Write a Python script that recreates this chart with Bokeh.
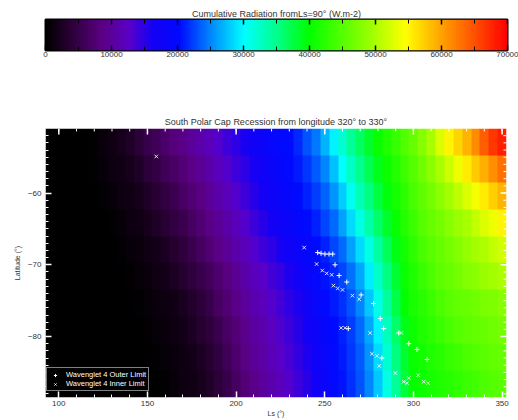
import numpy as np
from bokeh.plotting import figure
from bokeh.models import LinearColorMapper, FixedTicker, Range1d, Legend, LegendItem
from bokeh.layouts import column
from bokeh.embed import file_html
from bokeh.resources import INLINE

# ---------------- data ----------------
# Ls column centres (deg) of the radiation grid
ls_centers = list(range(95, 355, 5))
# latitude row centres (deg), top to bottom
lat_centers = [-52.875, -56.625, -60.375, -64.125, -67.875, -71.625, -75.375, -79.125, -82.875, -86.625]
lat_step = 3.75
ls_step = 5
# cumulative radiation from Ls=90 (thousands of W.m-2), one list per latitude row (top to bottom)
rad_lat_m53 = [0, 0, 0, 0, 0, 0.5, 1, 1.5, 2, 3,
               4, 5, 6, 7, 8, 9, 10, 11, 12, 13,
               14, 15, 16, 17, 18, 19, 19.8, 20.5, 21.5, 23,
               24.5, 27, 29.7, 32.2, 34.5, 36.5, 38.5, 40.3, 41.7, 43.2,
               44.8, 46, 48, 50, 52.5, 55, 57, 59, 61.5, 64,
               66.5, 68]
rad_lat_m57 = [0, 0, 0, 0, 0, 0.3, 0.7, 1.2, 1.6, 2,
               3, 3.9, 4.8, 5.8, 6.8, 7.8, 8.8, 9.8, 10.8, 11.9,
               12.9, 14, 15, 16.1, 17.2, 18.3, 19.3, 20.2, 21, 22,
               23.3, 25, 27.5, 30.2, 32.6, 34.8, 37, 39, 40.7, 42.1,
               43.5, 45, 46.7, 48.3, 50, 51.9, 53.8, 55.7, 57.5, 59.3,
               61, 63]
rad_lat_m60 = [0, 0, 0, 0, 0, 0, 0.3, 0.7, 1.1, 1.5,
               2, 2.9, 3.8, 4.6, 5.6, 6.6, 7.6, 8.6, 9.6, 10.7,
               11.8, 12.9, 14.1, 15.1, 16.2, 17.3, 18.4, 19.4, 20.3, 21.2,
               22.3, 23.7, 25.6, 28, 30.7, 33.2, 35.5, 37.7, 39.6, 41.2,
               42.6, 44.1, 45.5, 46.8, 48.2, 49.5, 51, 52.5, 54, 55.6,
               57.3, 59]
rad_lat_m64 = [0, 0, 0, 0, 0, 0, 0, 0.3, 0.7, 1.1,
               1.5, 2, 2.8, 3.7, 4.5, 5.4, 6.5, 7.5, 8.5, 9.6,
               10.7, 11.9, 13.1, 14.1, 15.1, 16.2, 17.3, 18.4, 19.4, 20.3,
               21.3, 22.5, 24, 26, 28.5, 31.2, 33.8, 36.2, 38.4, 40.4,
               41.9, 43.4, 45, 46, 47, 48, 49, 50, 51.2, 52.5,
               53.7, 55]
rad_lat_m68 = [0, 0, 0, 0, 0, 0, 0, 0, 0.3, 0.6,
               1, 1.4, 1.8, 2.7, 3.5, 4.3, 5.2, 6.3, 7.4, 8.5,
               9.6, 10.8, 12, 13, 14, 15, 16, 17.1, 18.3, 19.3,
               20.3, 21.3, 22.5, 24, 26, 28.5, 31.3, 34, 36.8, 39.2,
               41, 42.6, 44.2, 45.3, 46.2, 47, 47.8, 48.7, 49.5, 50.3,
               51.2, 52]
rad_lat_m72 = [0, 0, 0, 0, 0, 0, 0, 0, 0, 0.3,
               0.6, 1, 1.4, 1.8, 2.5, 3.3, 4.2, 5, 6.1, 7.3,
               8.4, 9.5, 10.8, 11.8, 12.8, 13.8, 14.7, 15.6, 16.8, 18.2,
               19.6, 20.6, 21.5, 22.6, 24.2, 26.5, 29.3, 32.4, 35.5, 38.2,
               40.3, 41.8, 43.1, 44.3, 45.4, 46.1, 46.9, 47.6, 48.3, 49,
               49.7, 50.2]
rad_lat_m75 = [0, 0, 0, 0, 0, 0, 0, 0, 0, 0,
               0.3, 0.6, 1, 1.3, 1.6, 2.4, 3.2, 4.1, 5, 6.3,
               7.5, 8.8, 10, 11, 12, 13, 13.9, 14.8, 15.8, 17.2,
               18.6, 19.8, 20.8, 21.8, 23, 25, 27.8, 31, 34.3, 37.3,
               39.7, 41.3, 42.3, 43.3, 44.4, 45.2, 45.7, 46.1, 46.6, 47.1,
               47.5, 48]
rad_lat_m79 = [0, 0, 0, 0, 0, 0, 0, 0, 0, 0,
               0, 0.3, 0.6, 1, 1.3, 1.7, 2.6, 3.3, 4.2, 5.3,
               6.6, 7.9, 9.2, 10.2, 11.2, 12.2, 13.2, 14.2, 15.2, 16.5,
               18, 19.3, 20.4, 21.3, 22.4, 24, 26.5, 29.6, 33, 36.2,
               38.9, 40.7, 41.6, 42.4, 43.3, 44.1, 45, 45.4, 45.8, 46.2,
               46.6, 47]
rad_lat_m83 = [0, 0, 0, 0, 0, 0, 0, 0, 0, 0,
               0, 0, 0.3, 0.6, 1, 1.3, 1.7, 2.6, 3.4, 4.4,
               5.8, 7.2, 8.6, 9.6, 10.6, 11.6, 12.6, 13.6, 14.6, 15.8,
               17.3, 18.8, 20, 21, 22, 23.4, 25.6, 28.6, 32, 35.3,
               38.2, 40.3, 41, 41.6, 42.3, 43, 43.6, 44.3, 45, 45.3,
               45.7, 46]
rad_lat_m87 = [0, 0, 0, 0, 0, 0, 0, 0, 0, 0,
               0, 0, 0.2, 0.5, 0.8, 1.1, 1.5, 2, 3, 4,
               5, 6.5, 7.9, 9, 10, 11, 12, 13, 14, 15.2,
               16.7, 18.3, 19.7, 20.7, 21.7, 23, 25, 27.8, 31.2, 34.6,
               37.6, 40, 40.6, 41.1, 41.7, 42.2, 42.8, 43.3, 43.9, 44.4,
               45, 45.3]
rad_rows = [rad_lat_m53, rad_lat_m57, rad_lat_m60, rad_lat_m64, rad_lat_m68,
            rad_lat_m72, rad_lat_m75, rad_lat_m79, rad_lat_m83, rad_lat_m87]

# Wavelet 4 outer limit (+) and inner limit (x): Ls, latitude
outer_ls = [246.0, 247.9, 250.1, 252.4, 254.5, 255.8, 258.1, 262.4, 263.3, 270.5,
            277.5, 281.3, 283.2, 291.7, 297.4, 302.0, 307.7, 282.2]
outer_lat = [-68.3, -68.4, -68.5, -68.5, -68.5, -70.0, -71.5, -72.4, -78.9, -74.2,
             -75.4, -77.5, -78.9, -79.5, -81.0, -81.8, -83.2, -83.0]
inner_ls = [155.0, 238.4, 245.4, 248.6, 251.1, 253.9, 254.9, 257.3, 260.0, 265.6,
            269.4, 259.2, 261.5, 275.6, 293.2, 276.6, 279.4, 280.7, 289.8, 294.5,
            296.4, 297.4, 302.7, 305.8, 308.3]
inner_lat = [-54.9, -67.6, -69.9, -70.8, -71.2, -71.4, -72.9, -73.3, -73.5, -74.3,
             -74.8, -78.8, -78.8, -79.5, -79.5, -82.4, -82.7, -84.1, -85.1, -86.3,
             -86.5, -85.8, -85.4, -86.3, -86.5]

cbar_ticks = [0, 10000, 20000, 30000, 40000, 50000, 60000, 70000]
cbar_minor = list(range(0, 70001, 5000))
cbar_max = 70000
lat_ticks = [-60, -70, -80]
lat_minor = list(range(-88, -51))
ls_ticks = [100, 150, 200, 250, 300, 350]
ls_minor = list(range(100, 360, 10))

# ---------------- palette (IDL-like rainbow) ----------------
stop_pos = [0.0, 0.05, 0.12, 0.18, 0.23, 0.29, 0.36, 0.43, 0.50, 0.57, 0.70, 0.78, 0.86, 1.0]
stop_rgb = [(0, 0, 0), (40, 0, 50), (90, 0, 130), (90, 0, 200), (20, 0, 245), (0, 10, 255),
            (0, 140, 255), (0, 255, 255), (0, 255, 140), (0, 255, 0), (150, 255, 0),
            (255, 255, 0), (255, 160, 0), (255, 0, 0)]
tt = np.linspace(0, 1, 256)
chans = [np.interp(tt, stop_pos, [c[i] for c in stop_rgb]) for i in range(3)]
palette = ['#%02x%02x%02x' % (int(round(r)), int(round(g)), int(round(b)))
           for r, g, b in zip(*chans)]
mapper = LinearColorMapper(palette=palette, low=0, high=cbar_max)

FONT = "Liberation Sans"
TXT = "#333333"

# ---------------- colour bar figure ----------------
p1 = figure(frame_width=462, frame_height=31, x_range=Range1d(0, cbar_max), y_range=Range1d(0, 1),
            output_backend="svg", toolbar_location=None,
            min_border_left=45, min_border_right=11, min_border_top=19, min_border_bottom=28)
p1.title.text = "Cumulative Radiation fromLs=90\u00b0 (W.m-2)"
p1.title.align = "center"
p1.title.text_font = FONT
p1.title.text_font_size = "9px"
p1.title.text_font_style = "normal"
p1.title.text_color = TXT
p1.title.standoff = 2
grad = np.linspace(0, cbar_max, 512)[None, :]
p1.image(image=[grad], x=0, y=0, dw=cbar_max, dh=1, color_mapper=mapper)
p1.grid.visible = False
p1.yaxis.visible = False
p1.outline_line_color = "black"
p1.outline_line_width = 2
ax = p1.xaxis[0]
ax.ticker = FixedTicker(ticks=cbar_ticks, minor_ticks=cbar_minor)
ax.axis_line_color = None
ax.major_tick_in = 5
ax.major_tick_out = 0
ax.minor_tick_in = 4
ax.minor_tick_out = 0
ax.major_tick_line_color = "black"
ax.minor_tick_line_color = "black"
ax.major_tick_line_width = 1.5
ax.major_label_text_font = FONT
ax.major_label_text_font_size = "8px"
ax.major_label_text_color = TXT
ax.major_label_standoff = 1
# mirrored ticks on the top edge of the colour bar (5 px / 4 px long)
cb_major_len = 5 / 31
cb_minor_len = 4 / 31
p1.segment(x0=cbar_ticks, y0=[1] * len(cbar_ticks), x1=cbar_ticks,
           y1=[1 - cb_major_len] * len(cbar_ticks), line_color="black", line_width=1.5)
p1.segment(x0=cbar_minor, y0=[1] * len(cbar_minor), x1=cbar_minor,
           y1=[1 - cb_minor_len] * len(cbar_minor), line_color="black", line_width=1)

# ---------------- main figure ----------------
x0 = ls_centers[0] - ls_step / 2
x1 = ls_centers[-1] + ls_step / 2
y_top = lat_centers[0] + lat_step / 2
y_bot = lat_centers[-1] - lat_step / 2
FW, FH = 461, 269
p2 = figure(frame_width=FW, frame_height=FH, x_range=Range1d(x0, x1), y_range=Range1d(y_bot, y_top),
            output_backend="svg", toolbar_location=None,
            min_border_left=42, min_border_right=15, min_border_top=50, min_border_bottom=21)
p2.title.text = "South Polar Cap Recession from longitude 320\u00b0 to 330\u00b0"
p2.title.align = "center"
p2.title.text_font = FONT
p2.title.text_font_size = "9px"
p2.title.text_font_style = "normal"
p2.title.text_color = TXT
p2.title.standoff = 3

rad = np.array(rad_rows[::-1], dtype=float) * 1000.0
p2.image(image=[rad], x=x0, y=y_bot, dw=x1 - x0, dh=y_top - y_bot, color_mapper=mapper)
p2.grid.visible = False
p2.outline_line_color = None

r_out = p2.scatter(outer_ls, outer_lat, marker="cross", size=5, line_color="white", line_width=1)
r_in = p2.scatter(inner_ls, inner_lat, marker="x", size=5, line_color="white", line_width=1,
                  line_alpha=0.85)

def style_axis(a):
    a.axis_line_color = None
    a.major_tick_in = 6
    a.major_tick_out = 0
    a.minor_tick_in = 3
    a.minor_tick_out = 0
    a.major_tick_line_color = "white"
    a.minor_tick_line_color = "white"
    a.major_tick_line_width = 1.5
    a.minor_tick_line_width = 1
    a.major_label_text_font = FONT
    a.major_label_text_font_size = "8px"
    a.major_label_text_color = TXT
    a.axis_label_text_font = FONT
    a.axis_label_text_font_size = "7px"
    a.axis_label_text_font_style = "normal"
    a.axis_label_text_color = TXT

xax = p2.xaxis[0]
xax.ticker = FixedTicker(ticks=ls_ticks, minor_ticks=ls_minor)
xax.axis_label = "Ls (\u00b0)"
xax.axis_label_standoff = 1
xax.major_label_standoff = 3
style_axis(xax)
yax = p2.yaxis[0]
yax.ticker = FixedTicker(ticks=lat_ticks, minor_ticks=lat_minor)
yax.axis_label = "Latitude (\u00b0)"
yax.axis_label_standoff = 4
yax.major_label_standoff = 4
style_axis(yax)

# mirrored white ticks on top and right edges (6 px major, 3 px minor)
dy_major = 6 / FH * (y_top - y_bot)
dy_minor = 3 / FH * (y_top - y_bot)
dx_major = 6 / FW * (x1 - x0)
dx_minor = 3 / FW * (x1 - x0)
p2.segment(x0=ls_ticks, y0=[y_top] * len(ls_ticks), x1=ls_ticks,
           y1=[y_top - dy_major] * len(ls_ticks), line_color="white", line_width=1.5)
p2.segment(x0=ls_minor, y0=[y_top] * len(ls_minor), x1=ls_minor,
           y1=[y_top - dy_minor] * len(ls_minor), line_color="white", line_width=1)
p2.segment(x0=[x1] * len(lat_ticks), y0=lat_ticks, x1=[x1 - dx_major] * len(lat_ticks),
           y1=lat_ticks, line_color="white", line_width=1.5)
p2.segment(x0=[x1] * len(lat_minor), y0=lat_minor, x1=[x1 - dx_minor] * len(lat_minor),
           y1=lat_minor, line_color="white", line_width=1)

legend = Legend(items=[LegendItem(label="Wavenglet 4 Outer Limit", renderers=[r_out]),
                       LegendItem(label="Wavenglet 4 Inner Limit", renderers=[r_in])],
                location=(1, 6))
legend.background_fill_color = "black"
legend.background_fill_alpha = 1
legend.border_line_color = "white"
legend.border_line_width = 1
legend.label_text_color = "white"
legend.label_text_font = FONT
legend.label_text_font_size = "7.5px"
legend.label_height = 8
legend.glyph_height = 8
legend.glyph_width = 12
legend.label_standoff = 5
legend.spacing = 0
legend.padding = 2
legend.margin = 0
p2.add_layout(legend, "center")

layout = column(p1, p2)
open("out.html", "w").write(file_html(layout, INLINE))
